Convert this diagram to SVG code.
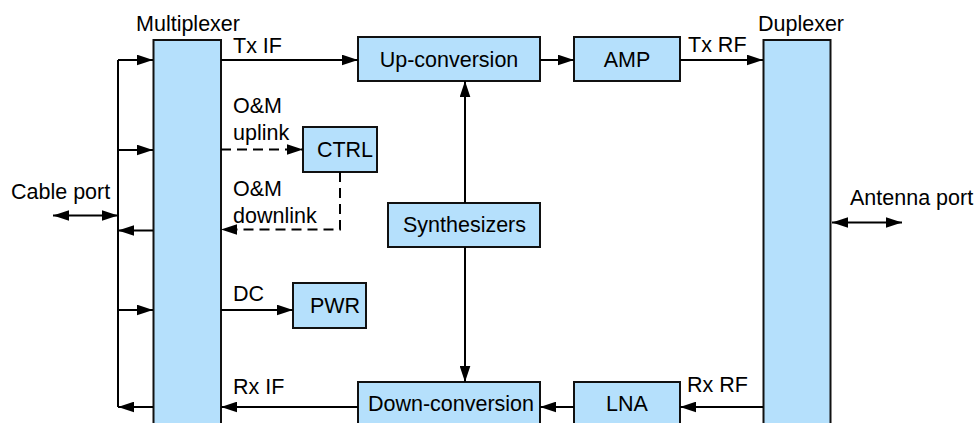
<svg xmlns="http://www.w3.org/2000/svg" width="974" height="423" viewBox="0 0 974 423">
<style>
.box{fill:#b5e0fc;stroke:#111;stroke-width:2}
.t{font-family:"Liberation Sans",Arial,sans-serif;font-size:21.5px;fill:#000}
.c{text-anchor:middle}
.ln{fill:none;stroke:#000;stroke-width:2}
.d{stroke-dasharray:10 6}
</style>
<defs>
<marker id="ah" markerUnits="userSpaceOnUse" markerWidth="16" markerHeight="11" refX="15" refY="5" orient="auto-start-reverse" viewBox="0 0 15 10">
<path d="M0,0 L15,5 L0,10 z" fill="#000"/>
</marker>
</defs>
<rect width="974" height="423" fill="#fff"/>

<g id="multiplexer">
<rect class="box" x="153.5" y="40" width="67.5" height="400"/>
<text class="t c" x="188" y="31">Multiplexer</text>
</g>
<g id="duplexer">
<rect class="box" x="763.5" y="40" width="67" height="400"/>
<text class="t c" x="801" y="31">Duplexer</text>
</g>
<g id="upconv">
<rect class="box" x="358" y="37" width="182" height="44"/>
<text class="t c" x="449" y="66.5">Up-conversion</text>
</g>
<g id="amp">
<rect class="box" x="574" y="37" width="106" height="44"/>
<text class="t c" x="627" y="66.5">AMP</text>
</g>
<g id="ctrl">
<rect class="box" x="303" y="127" width="74" height="45"/>
<text class="t c" x="345" y="157">CTRL</text>
</g>
<g id="synth">
<rect class="box" x="388" y="203" width="152" height="44"/>
<text class="t c" x="464.5" y="232">Synthesizers</text>
</g>
<g id="pwr">
<rect class="box" x="293" y="283" width="73" height="45"/>
<text class="t c" x="335" y="313">PWR</text>
</g>
<g id="downconv">
<rect class="box" x="358" y="382" width="182" height="44"/>
<text class="t c" x="451" y="410.5">Down-conversion</text>
</g>
<g id="lna">
<rect class="box" x="574" y="382" width="106" height="44"/>
<text class="t c" x="627" y="410.5">LNA</text>
</g>

<g id="connectors">
<line class="ln" x1="118" y1="60" x2="118" y2="407"/>
<line class="ln" x1="118" y1="60" x2="153" y2="60" marker-end="url(#ah)"/>
<line class="ln" x1="118" y1="150" x2="153" y2="150" marker-end="url(#ah)"/>
<line class="ln" x1="153" y1="230.5" x2="118" y2="230.5" marker-end="url(#ah)"/>
<line class="ln" x1="118" y1="310" x2="153" y2="310" marker-end="url(#ah)"/>
<line class="ln" x1="153" y1="407" x2="118" y2="407" marker-end="url(#ah)"/>
<line class="ln" x1="53" y1="215.5" x2="118" y2="215.5" marker-start="url(#ah)" marker-end="url(#ah)"/>
<line class="ln" x1="832" y1="222.5" x2="902" y2="222.5" marker-start="url(#ah)" marker-end="url(#ah)"/>

<line class="ln" x1="221" y1="60" x2="358" y2="60" marker-end="url(#ah)"/>
<line class="ln" x1="540" y1="60" x2="574" y2="60" marker-end="url(#ah)"/>
<line class="ln" x1="680" y1="60" x2="763" y2="60" marker-end="url(#ah)"/>
<line class="ln d" x1="221" y1="149.5" x2="303" y2="149.5" marker-end="url(#ah)"/>
<polyline class="ln d" points="340,172 340,229.5 221,229.5" marker-end="url(#ah)"/>
<line class="ln" x1="221" y1="310" x2="293" y2="310" marker-end="url(#ah)"/>
<line class="ln" x1="465" y1="203" x2="465" y2="81" marker-end="url(#ah)"/>
<line class="ln" x1="465" y1="247" x2="465" y2="382" marker-end="url(#ah)"/>
<line class="ln" x1="763" y1="407" x2="680" y2="407" marker-end="url(#ah)"/>
<line class="ln" x1="574" y1="407" x2="540" y2="407" marker-end="url(#ah)"/>
<line class="ln" x1="358" y1="407" x2="221" y2="407" marker-end="url(#ah)"/>
</g>

<g id="labels">
<text class="t" x="233" y="53">Tx IF</text>
<text class="t" x="233" y="113">O&amp;M</text>
<text class="t" x="233" y="140">uplink</text>
<text class="t" x="233" y="196">O&amp;M</text>
<text class="t" x="233" y="223">downlink</text>
<text class="t" x="233" y="301">DC</text>
<text class="t" x="233" y="394">Rx IF</text>
<text class="t" x="688" y="52">Tx RF</text>
<text class="t" x="687" y="392">Rx RF</text>
<text class="t" x="11" y="199">Cable port</text>
<text class="t" x="850" y="205">Antenna port</text>
</g>
</svg>
